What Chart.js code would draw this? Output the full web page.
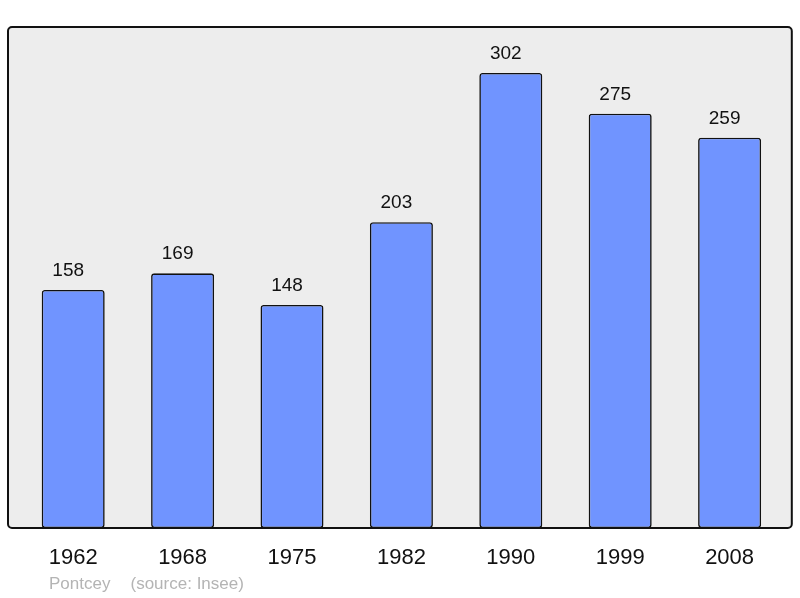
<!DOCTYPE html>
<html>
<head>
<meta charset="utf-8">
<script src="https://cdn.jsdelivr.net/npm/chart.js@4/dist/chart.umd.min.js"></script>
<style>
  html, body { margin: 0; padding: 0; background: #fff; }
  #wrap { width: 800px; height: 598px; }
</style>
</head>
<body>
<div id="wrap"><canvas id="myChart" width="800" height="598"></canvas></div>
<script>
// Données
var annees = ['1962', '1968', '1975', '1982', '1990', '1999', '2008'];
var population = [158, 169, 148, 203, 302, 275, 259];
var yMax = 332.5;
var commune = 'Pontcey';
var source = '(source: Insee)';

var police = '"Liberation Sans", Arial, sans-serif';

// Cadre gris + bord noir arrondi
var cadre = {
    id: 'cadre',
    beforeDatasetsDraw: function (chart) {
        var a = chart.chartArea, c = chart.ctx;
        c.save();
        c.beginPath();
        c.roundRect(a.left - 10.5, a.top, a.right - a.left + 18, a.bottom - a.top, 4);
        c.fillStyle = '#ededed';
        c.fill();
        c.restore();
    },
    afterDatasetsDraw: function (chart) {
        var a = chart.chartArea, c = chart.ctx;
        c.save();
        c.beginPath();
        c.roundRect(a.left - 10.5, a.top, a.right - a.left + 18, a.bottom - a.top, 4);
        c.lineWidth = 2;
        c.strokeStyle = '#111';
        c.stroke();
        // valeurs au-dessus des barres
        var meta = chart.getDatasetMeta(0);
        c.fillStyle = '#111';
        c.font = '19px ' + police;
        c.textAlign = 'center';
        c.textBaseline = 'alphabetic';
        meta.data.forEach(function (bar, i) {
            c.fillText(population[i], bar.x - 5, bar.y - 14);
        });
        // pied
        c.fillStyle = '#b4b4b4';
        c.font = '17px ' + police;
        c.textAlign = 'left';
        c.fillText(commune, 49, 589);
        c.fillText(source, 130.5, 589);
        c.restore();
    }
};

var ctx = document.getElementById('myChart').getContext('2d');
var myChart = new Chart(ctx, {
    type: 'bar',
    data: {
        labels: annees,
        datasets: [{
            data: population,
            backgroundColor: '#7094ff',
            borderColor: '#111',
            borderWidth: 1.6,
            borderRadius: 3,
            borderSkipped: false,
            categoryPercentage: 1,
            barPercentage: 0.576
        }]
    },
    options: {
        responsive: false,
        animation: false,
        layout: { padding: { left: 18.5, right: 15.7, top: 27, bottom: 0 } },
        plugins: { legend: { display: false }, tooltip: { enabled: false } },
        scales: {
            y: { display: false, min: 0, max: yMax },
            x: {
                grid: { display: false, drawTicks: false },
                border: { display: false },
                ticks: { color: '#111', font: { size: 22, family: police }, padding: 17, maxRotation: 0 },
                afterFit: function (scale) { scale.height = 70; }
            }
        }
    },
    plugins: [cadre]
});
</script>
</body>
</html>
